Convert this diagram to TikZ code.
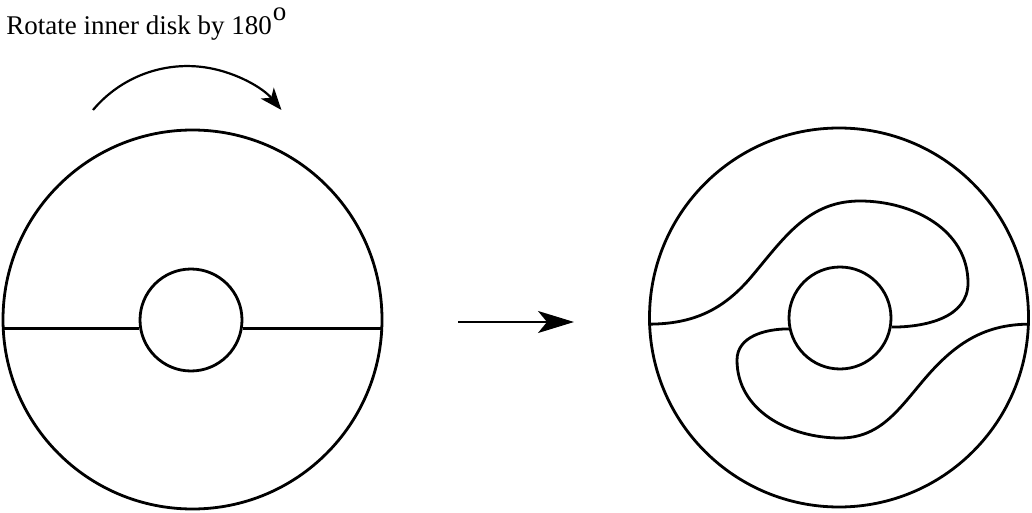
\documentclass[tikz,border=0pt]{standalone}
\usepackage{fontspec}
\setmainfont{Liberation Serif}
\usetikzlibrary{arrows.meta}

\begin{document}
\begin{tikzpicture}[x=1pt, y=1pt, line width=2.8pt,
    disk/.style={circle, draw, inner sep=0pt, minimum size=379pt},
    hole/.style={circle, draw, inner sep=0pt, minimum size=102pt}]

    \useasboundingbox (0,0) rectangle (1032,512);

    % Label
    \node[anchor=base west, inner sep=0pt, font=\fontsize{27}{32}\selectfont] (label) at (5,477)
        {Rotate inner disk by 180\kern1pt\raisebox{14pt}{\fontsize{27}{27}\selectfont o}};

    % Rotation arrow
    \coordinate (turnS) at (93,402);
    \draw[-{Stealth[length=22pt, width=17pt, inset=6pt]}, line width=2.2pt] (turnS) arc[start angle=140, end angle=40, radius=123];

    % Left disk
    \node[disk] (outerL) at (192.5,192.5) {};
    \node[hole] (innerL) at (191,192) {};
    \draw (innerL.189) -- (innerL.189 -| outerL.west);
    \draw (innerL.-9) -- (innerL.-9 -| outerL.east);

    % Map arrow
    \coordinate (mapS) at (458,190);
    \coordinate (mapE) at (574,190);
    \draw[-{Stealth[length=36pt, width=22pt, inset=9pt]}, line width=2pt] (mapS) -- (mapE);

    % Right disk, after the twist
    \node[disk] (outerR) at (839,194.5) {};
    \node[hole] (innerR) at (840,194) {};
    \draw (outerR.182) to[out=0, in=230] (752,236) to[out=50, in=180] (860,311)
        to[out=0, in=90] (968,229) to[out=-90, in=0] (innerR.-10);
    \draw (outerR.-2.2) to[out=180, in=50] (922,130) to[out=230, in=0] (840,74)
        to[out=180, in=-90] (737,152) to[out=90, in=180] (innerR.192.5);

\end{tikzpicture}
\end{document}
